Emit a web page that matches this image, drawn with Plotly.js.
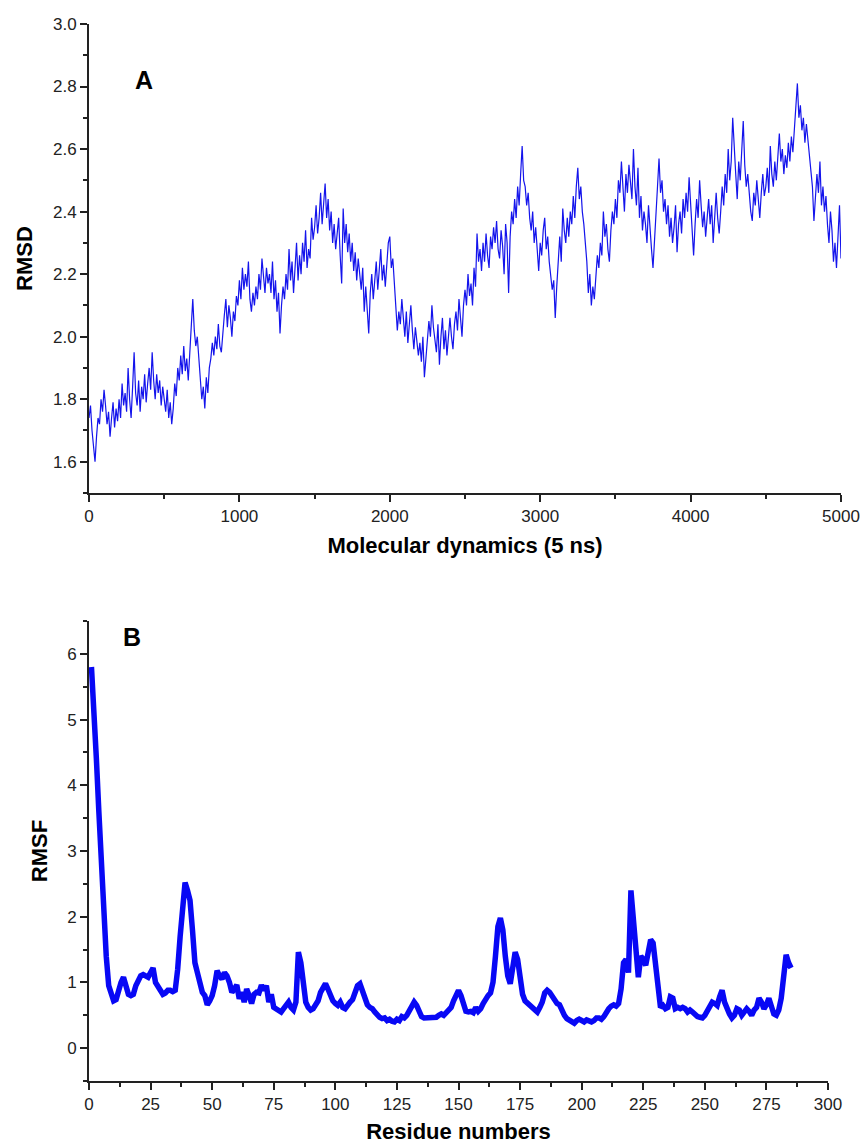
<!DOCTYPE html>
<html>
<head>
<meta charset="utf-8">
<script src="https://cdn.plot.ly/plotly-3.0.1.min.js"></script>
<style>html,body{margin:0;padding:0;background:#fff;}#chart{width:864px;height:1146px;}</style>
</head>
<body>
<div id="chart"></div>
<script>
// ---- Panel A: RMSD over simulation time (sampled every 10 steps) ----
const rmsdStep = 10;
const rmsdValues = [
1.74,1.78,1.70,1.66,1.60,1.68,1.74,1.72,1.80,1.76,
1.83,1.78,1.72,1.76,1.68,1.74,1.79,1.71,1.77,1.73,
1.80,1.74,1.85,1.78,1.82,1.76,1.90,1.80,1.74,1.84,
1.95,1.82,1.78,1.86,1.76,1.84,1.80,1.88,1.79,1.85,
1.90,1.83,1.95,1.86,1.80,1.88,1.82,1.86,1.78,1.84,
1.80,1.76,1.83,1.74,1.79,1.72,1.77,1.85,1.81,1.90,
1.86,1.94,1.88,1.97,1.89,1.93,1.86,1.95,2.00,2.12,
2.02,1.97,2.00,1.94,1.86,1.80,1.84,1.77,1.87,1.82,
1.90,1.93,1.98,1.94,2.00,1.96,2.04,1.97,1.95,2.02,
2.07,2.12,2.03,2.10,2.06,2.00,2.08,2.05,2.13,2.10,
2.18,2.12,2.22,2.15,2.20,2.16,2.24,2.12,2.08,2.14,
2.10,2.16,2.12,2.20,2.15,2.25,2.18,2.14,2.22,2.17,
2.20,2.14,2.24,2.12,2.18,2.08,2.14,2.01,2.10,2.16,
2.12,2.20,2.15,2.28,2.18,2.24,2.14,2.22,2.30,2.18,
2.26,2.20,2.30,2.24,2.34,2.22,2.28,2.25,2.38,2.31,
2.35,2.42,2.33,2.38,2.46,2.36,2.43,2.49,2.38,2.44,
2.34,2.40,2.30,2.36,2.28,2.33,2.38,2.26,2.17,2.41,
2.30,2.36,2.27,2.33,2.24,2.30,2.21,2.27,2.18,2.25,
2.20,2.15,2.22,2.08,2.16,2.10,2.01,2.14,2.20,2.12,
2.17,2.24,2.15,2.21,2.28,2.18,2.23,2.16,2.25,2.30,
2.32,2.22,2.25,2.16,2.10,2.02,2.08,2.04,2.12,2.06,
2.00,2.08,1.98,2.04,2.10,2.02,1.96,2.03,1.98,1.94,
1.98,1.92,2.00,1.87,1.93,1.98,2.05,2.00,2.10,2.03,
1.98,1.95,2.04,1.91,2.00,2.06,1.96,2.02,1.94,2.00,
2.06,2.00,1.96,2.04,2.08,2.02,2.12,2.06,2.00,2.10,
2.15,2.10,2.20,2.13,2.17,2.10,2.22,2.16,2.33,2.24,
2.28,2.21,2.30,2.24,2.33,2.26,2.22,2.32,2.28,2.35,
2.30,2.37,2.28,2.25,2.34,2.29,2.20,2.36,2.30,2.14,
2.32,2.40,2.36,2.44,2.38,2.48,2.42,2.52,2.61,2.50,
2.48,2.42,2.46,2.38,2.34,2.40,2.30,2.35,2.28,2.21,
2.30,2.26,2.34,2.38,2.28,2.32,2.24,2.20,2.15,2.18,
2.06,2.16,2.26,2.32,2.24,2.41,2.34,2.30,2.38,2.32,
2.40,2.36,2.45,2.38,2.48,2.54,2.44,2.48,2.40,2.36,
2.30,2.24,2.14,2.20,2.10,2.16,2.12,2.20,2.26,2.22,
2.30,2.26,2.40,2.32,2.36,2.28,2.24,2.34,2.40,2.36,
2.44,2.38,2.50,2.46,2.56,2.48,2.40,2.52,2.46,2.55,
2.50,2.44,2.60,2.48,2.42,2.54,2.38,2.45,2.34,2.40,
2.36,2.30,2.42,2.34,2.28,2.22,2.32,2.40,2.48,2.57,
2.46,2.50,2.40,2.44,2.36,2.42,2.32,2.38,2.30,2.35,
2.42,2.27,2.36,2.40,2.33,2.44,2.38,2.46,2.40,2.51,
2.42,2.34,2.26,2.36,2.44,2.38,2.50,2.42,2.35,2.40,
2.32,2.38,2.44,2.36,2.42,2.30,2.40,2.46,2.38,2.33,
2.40,2.48,2.42,2.52,2.46,2.60,2.50,2.56,2.70,2.58,
2.52,2.44,2.56,2.50,2.62,2.69,2.55,2.48,2.52,2.44,
2.40,2.37,2.46,2.42,2.50,2.44,2.38,2.46,2.52,2.45,
2.48,2.54,2.46,2.61,2.52,2.48,2.56,2.50,2.58,2.65,
2.56,2.60,2.52,2.58,2.54,2.62,2.56,2.64,2.59,2.66,
2.72,2.81,2.70,2.74,2.66,2.70,2.62,2.68,2.63,2.58,
2.54,2.48,2.37,2.44,2.52,2.46,2.56,2.42,2.48,2.40,
2.45,2.36,2.30,2.40,2.34,2.24,2.30,2.22,2.35,2.42,
2.25
];
const rmsdTime = rmsdValues.map((v, i) => i * rmsdStep);

// ---- Panel B: RMSF per residue (residues 1..285) ----
const rmsfValues = [
5.8,5.2,4.4,3.6,2.8,2.1,1.4,0.95,0.85,0.72,
0.74,0.9,1.0,1.08,0.95,0.82,0.8,0.82,0.95,1.05,
1.1,1.12,1.1,1.08,1.15,1.22,1.0,0.95,0.88,0.82,
0.84,0.88,0.88,0.86,0.88,1.2,1.7,2.2,2.52,2.4,
2.25,1.8,1.3,1.15,1.0,0.85,0.8,0.66,0.72,0.8,
0.95,1.18,1.1,1.05,1.15,1.1,1.0,0.85,0.9,0.96,
0.75,0.85,0.7,0.9,0.8,0.68,0.82,0.85,0.84,0.96,
0.88,0.95,0.7,0.82,0.62,0.6,0.58,0.55,0.6,0.64,
0.7,0.62,0.58,0.7,1.46,1.3,0.9,0.7,0.62,0.58,
0.6,0.65,0.72,0.85,0.9,0.98,0.9,0.8,0.72,0.68,
0.65,0.7,0.62,0.6,0.66,0.7,0.74,0.85,0.95,0.98,
0.85,0.72,0.66,0.62,0.6,0.55,0.5,0.47,0.45,0.46,
0.42,0.44,0.41,0.4,0.44,0.42,0.48,0.46,0.5,0.58,
0.66,0.7,0.65,0.56,0.48,0.46,0.46,0.47,0.46,0.48,
0.47,0.5,0.52,0.5,0.55,0.6,0.62,0.72,0.82,0.88,
0.8,0.65,0.56,0.55,0.56,0.54,0.62,0.56,0.6,0.68,
0.75,0.8,0.84,1.0,1.4,1.85,1.98,1.8,1.4,1.1,
0.98,1.2,1.46,1.35,1.0,0.82,0.72,0.68,0.66,0.6,
0.56,0.55,0.62,0.7,0.84,0.88,0.85,0.78,0.72,0.68,
0.66,0.56,0.5,0.45,0.42,0.4,0.38,0.42,0.44,0.42,
0.4,0.43,0.41,0.4,0.42,0.46,0.46,0.44,0.48,0.56,
0.6,0.64,0.66,0.64,0.68,0.9,1.3,1.35,1.15,2.4,
1.9,1.3,1.08,1.4,1.35,1.26,1.45,1.65,1.6,1.3,
0.9,0.62,0.65,0.6,0.62,0.78,0.76,0.6,0.62,0.6,
0.62,0.6,0.55,0.58,0.55,0.5,0.48,0.47,0.46,0.5,
0.58,0.65,0.7,0.68,0.65,0.78,0.88,0.7,0.6,0.52,
0.46,0.5,0.6,0.58,0.5,0.55,0.6,0.56,0.5,0.58,
0.62,0.76,0.7,0.6,0.66,0.76,0.65,0.52,0.5,0.58,
0.76,1.1,1.42,1.3,1.22
];
const residues = rmsfValues.map((v, i) => i + 1);

const W = 864, H = 1146;
const px = v => v / W, py = v => 1 - v / H;

const tickFont = {family: 'Liberation Sans, Arial, sans-serif', size: 17, color: '#222'};
const titleFont = {family: 'Liberation Sans, Arial, sans-serif', size: 22, color: '#000', weight: 'bold'};

function axisBase(extra) {
  return Object.assign({
    showgrid: false, zeroline: false, showline: true, linecolor: '#222', linewidth: 2,
    ticks: 'outside', ticklen: 7, tickwidth: 2, tickcolor: '#222',
    tickfont: tickFont, mirror: false, fixedrange: true
  }, extra);
}

const traces = [
  {x: rmsdTime, y: rmsdValues, type: 'scatter', mode: 'lines', xaxis: 'x', yaxis: 'y',
   line: {color: '#1414ec', width: 1.2}, showlegend: false},
  {x: residues, y: rmsfValues, type: 'scatter', mode: 'lines', xaxis: 'x2', yaxis: 'y2',
   line: {color: '#0808f5', width: 5.5}, showlegend: false}
];

const layout = {
  width: W, height: H, margin: {l: 0, r: 0, t: 0, b: 0},
  paper_bgcolor: '#fff', plot_bgcolor: '#fff', showlegend: false,
  xaxis: axisBase({domain: [px(89), px(841)], range: [0, 5000], anchor: 'y',
    tick0: 0, dtick: 1000, minor: {ticks: 'outside', ticklen: 4, tickwidth: 2, dtick: 500, tickcolor: '#222'},
    title: {text: 'Molecular dynamics (5 ns)', font: titleFont, standoff: 12}}),
  yaxis: axisBase({domain: [py(493), py(24)], range: [1.5, 3.0], anchor: 'x',
    tick0: 1.6, dtick: 0.2, tickformat: '.1f',
    minor: {ticks: 'outside', ticklen: 4, tickwidth: 2, dtick: 0.1, tickcolor: '#222'},
    title: {text: 'RMSD', font: titleFont, standoff: 14}}),
  xaxis2: axisBase({domain: [px(89), px(828)], range: [0, 300], anchor: 'y2',
    tick0: 0, dtick: 25, minor: {ticks: 'outside', ticklen: 4, tickwidth: 2, dtick: 12.5, tickcolor: '#222'},
    title: {text: 'Residue numbers', font: titleFont, standoff: 10}}),
  yaxis2: axisBase({domain: [py(1081), py(621)], range: [-0.5, 6.5], anchor: 'x2',
    tick0: 0, dtick: 1,
    minor: {ticks: 'outside', ticklen: 4, tickwidth: 2, dtick: 0.5, tickcolor: '#222'},
    title: {text: 'RMSF', font: titleFont, standoff: 13}}),
  annotations: [
    {text: '<b>A</b>', xref: 'paper', yref: 'paper', x: px(133), y: py(64), showarrow: false,
     font: {family: 'Liberation Sans, Arial, sans-serif', size: 25, color: '#000'}},
    {text: '<b>B</b>', xref: 'paper', yref: 'paper', x: px(121), y: py(637), showarrow: false,
     font: {family: 'Liberation Sans, Arial, sans-serif', size: 25, color: '#000'}}
  ]
};

Plotly.newPlot('chart', traces, layout, {staticPlot: true, displayModeBar: false});
</script>
</body>
</html>
